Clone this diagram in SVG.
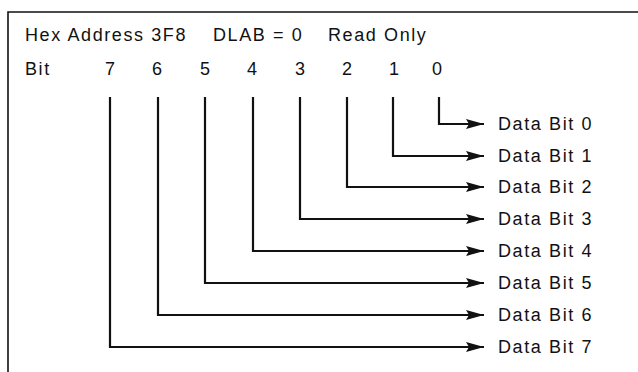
<svg xmlns="http://www.w3.org/2000/svg" width="638" height="372" viewBox="0 0 638 372">
<style>
text{font-family:"Liberation Sans",Arial,sans-serif;font-size:18px;letter-spacing:1.6px;fill:#111}
.d{text-anchor:middle;letter-spacing:0}
.frame{fill:none;stroke:#111;stroke-width:1.6}
.c{fill:none;stroke:#111;stroke-width:2.2;stroke-linejoin:miter}
</style>
<defs>
<marker id="ah" markerUnits="userSpaceOnUse" markerWidth="20" markerHeight="12" refX="18" refY="5" orient="auto">
<path d="M0,0 L18,5 L0,10 L3,5 Z" fill="#111"/>
</marker>
</defs>
<path class="frame" d="M8,372 L8,12 L638,12"/>
<g id="header">
<text x="25" y="41">Hex Address 3F8</text>
<text x="213" y="41">DLAB = 0</text>
<text x="328" y="41">Read Only</text>
</g>
<g id="bits">
<text x="25" y="74.5">Bit</text>
<text class="d" x="110" y="74.5">7</text>
<text class="d" x="157" y="74.5">6</text>
<text class="d" x="205" y="74.5">5</text>
<text class="d" x="252" y="74.5">4</text>
<text class="d" x="300" y="74.5">3</text>
<text class="d" x="347" y="74.5">2</text>
<text class="d" x="394" y="74.5">1</text>
<text class="d" x="437" y="74.5">0</text>
</g>
<g id="connectors">
<path class="c" marker-end="url(#ah)" d="M439,97 V124 H484"/>
<path class="c" marker-end="url(#ah)" d="M393,97 V156 H484"/>
<path class="c" marker-end="url(#ah)" d="M347,97 V187 H484"/>
<path class="c" marker-end="url(#ah)" d="M300,97 V219 H484"/>
<path class="c" marker-end="url(#ah)" d="M253,97 V251 H484"/>
<path class="c" marker-end="url(#ah)" d="M205,97 V283 H484"/>
<path class="c" marker-end="url(#ah)" d="M158,97 V315 H484"/>
<path class="c" marker-end="url(#ah)" d="M110,97 V347 H484"/>
</g>
<g id="data-bit-0"><text x="498" y="130">Data Bit 0</text></g>
<g id="data-bit-1"><text x="498" y="162">Data Bit 1</text></g>
<g id="data-bit-2"><text x="498" y="193">Data Bit 2</text></g>
<g id="data-bit-3"><text x="498" y="225">Data Bit 3</text></g>
<g id="data-bit-4"><text x="498" y="257">Data Bit 4</text></g>
<g id="data-bit-5"><text x="498" y="289">Data Bit 5</text></g>
<g id="data-bit-6"><text x="498" y="321">Data Bit 6</text></g>
<g id="data-bit-7"><text x="498" y="353">Data Bit 7</text></g>
</svg>
